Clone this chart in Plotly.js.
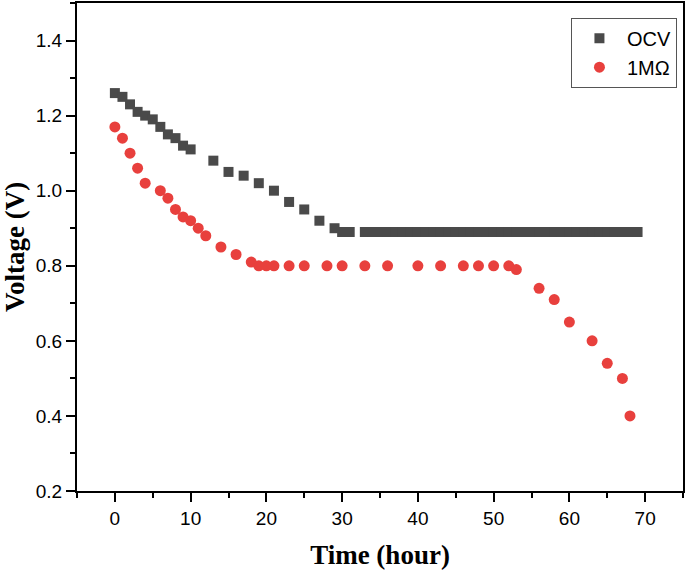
<!DOCTYPE html>
<html>
<head>
<meta charset="utf-8">
<script src="https://cdn.plot.ly/plotly-3.0.1.min.js"></script>
<style>html,body{margin:0;padding:0;background:#fff;}#chart{width:685px;height:576px;}</style>
</head>
<body>
<div id="chart"></div>
<script>
// OCV series
const ocvTime = [0,1,2,3,4,5,6,7,8,9,10,13,15,17,19,21,23,25,27,29,30,31,
  33,34,35,36,37,38,39,40,41,42,43,44,45,46,47,48,49,50,51,52,53,54,55,56,57,58,59,60,61,62,63,64,65,66,67,68,69];
const ocvVolt = [1.26,1.25,1.23,1.21,1.20,1.19,1.17,1.15,1.14,1.12,1.11,1.08,1.05,1.04,1.02,1.00,0.97,0.95,0.92,0.90,0.89,0.89,
  0.89,0.89,0.89,0.89,0.89,0.89,0.89,0.89,0.89,0.89,0.89,0.89,0.89,0.89,0.89,0.89,0.89,0.89,0.89,0.89,0.89,0.89,0.89,0.89,0.89,0.89,0.89,0.89,0.89,0.89,0.89,0.89,0.89,0.89,0.89,0.89,0.89];
// 1 MOhm series
const resTime = [0,1,2,3,4,6,7,8,9,10,11,12,14,16,18,19,20,21,23,25,28,30,33,36,40,43,46,48,50,52,53,56,58,60,63,65,67,68];
const resVolt = [1.17,1.14,1.10,1.06,1.02,1.00,0.98,0.95,0.93,0.92,0.90,0.88,0.85,0.83,0.81,0.80,0.80,0.80,0.80,0.80,0.80,0.80,0.80,0.80,0.80,0.80,0.80,0.80,0.80,0.80,0.79,0.74,0.71,0.65,0.60,0.54,0.50,0.40];
const seriesNames = ["OCV", "1MΩ"];
const xTicks = [0,10,20,30,40,50,60,70];
const yTicks = [0.2,0.4,0.6,0.8,1.0,1.2,1.4];

const traces = [
  {x: ocvTime, y: ocvVolt, name: seriesNames[0], mode: 'markers', type: 'scatter',
   marker: {symbol: 'square', size: 10, color: '#4a4a4a'}},
  {x: resTime, y: resVolt, name: seriesNames[1], mode: 'markers', type: 'scatter',
   marker: {symbol: 'circle', size: 11, color: '#e8403d'}}
];

const axisCommon = {
  showline: true, linecolor: '#000', linewidth: 2, mirror: true,
  ticks: 'outside', ticklen: 9, tickwidth: 2, tickcolor: '#000',
  showgrid: false, zeroline: false,
  tickfont: {family: 'Liberation Sans, Arial, sans-serif', size: 19, color: '#000'}
};

const layout = {
  width: 685, height: 576,
  margin: {l: 77, r: 2, t: 3, b: 85},
  paper_bgcolor: '#fff', plot_bgcolor: '#fff',
  showlegend: true,
  legend: {x: 0.99, xanchor: 'right', y: 0.97, yanchor: 'top',
    bordercolor: '#555', borderwidth: 1, bgcolor: '#fff',
    font: {family: 'Liberation Sans, Arial, sans-serif', size: 20, color: '#000'},
    itemwidth: 45},
  xaxis: Object.assign({}, axisCommon, {
    range: [-5, 75], tickvals: xTicks, ticktext: xTicks.map(String),
    minor: {ticks: 'outside', ticklen: 5, tickwidth: 2, tickcolor: '#000', dtick: 5, tick0: 5, showgrid: false},
    title: {text: 'Time (hour)', standoff: 17,
      font: {family: 'Liberation Serif, Times New Roman, serif', size: 27, color: '#000', weight: 'bold'}}
  }),
  yaxis: Object.assign({}, axisCommon, {
    range: [0.2, 1.5], tickvals: yTicks, ticktext: yTicks.map(v => v.toFixed(1)),
    minor: {ticks: 'outside', ticklen: 5, tickwidth: 2, tickcolor: '#000', dtick: 0.1, tick0: 0.3, showgrid: false},
    title: {text: 'Voltage (V)', standoff: 8,
      font: {family: 'Liberation Serif, Times New Roman, serif', size: 27, color: '#000', weight: 'bold'}}
  })
};

Plotly.newPlot('chart', traces, layout, {displayModeBar: false, staticPlot: true});
</script>
</body>
</html>
